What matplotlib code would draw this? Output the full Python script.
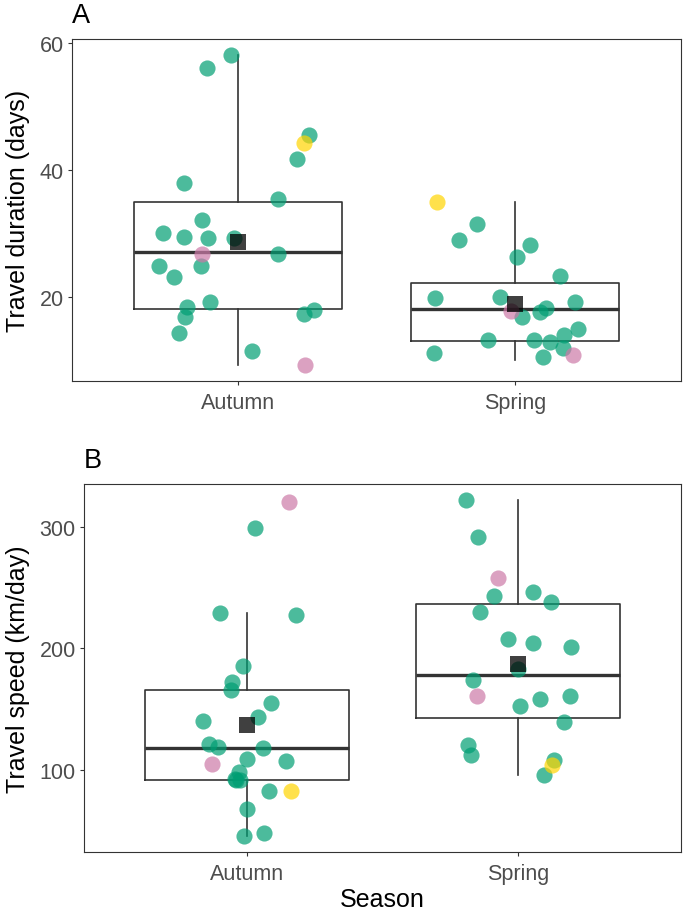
import matplotlib.pyplot as plt

plt.rcParams['font.family'] = ['Liberation Sans', 'DejaVu Sans']

seasons = ['Autumn', 'Spring']

# panel A - travel duration (days)
dur_aut = [58.2, 56.1, 45.5, 44.3, 41.7, 38.0, 35.4, 32.1, 30.1, 29.4, 29.3, 29.2, 26.7,
           26.7, 24.9, 24.9, 23.1, 19.2, 18.4, 16.8, 17.9, 17.3, 14.2, 11.4, 9.2]
dur_aut_jit = [-0.024, -0.114, 0.256, 0.238, 0.212, -0.196, 0.144, -0.130, -0.272, -0.197,
               -0.107, -0.014, -0.130, 0.144, -0.284, -0.134, -0.231, -0.100, -0.186, -0.191,
               0.273, 0.237, -0.214, 0.049, 0.241]
dur_aut_grp = ['g', 'g', 'g', 'y', 'g', 'g', 'g', 'g', 'g', 'g', 'g', 'g', 'p',
               'g', 'g', 'g', 'g', 'g', 'g', 'g', 'g', 'g', 'g', 'g', 'p']
dur_spr = [35.0, 31.4, 29.0, 28.1, 26.3, 23.2, 19.7, 20.0, 19.1, 17.7, 18.2, 17.6, 16.7,
           14.8, 14.0, 13.2, 13.1, 12.9, 11.8, 10.8, 11.1, 10.4]
dur_spr_jit = [-0.282, -0.136, -0.201, 0.054, 0.009, 0.162, -0.289, -0.055, 0.216, -0.014,
               0.111, 0.092, 0.025, 0.227, 0.176, -0.096, 0.068, 0.125, 0.173, 0.211,
               -0.291, 0.103]
dur_spr_grp = ['y', 'g', 'g', 'g', 'g', 'g', 'g', 'g', 'g', 'p', 'g', 'g', 'g',
               'g', 'g', 'g', 'g', 'g', 'g', 'p', 'g', 'g']
# box stats: q1, median, q3, whisker low, whisker high, mean
dur_q1 = [18.1, 13.0]
dur_med = [27.0, 18.1]
dur_q3 = [35.0, 22.2]
dur_lo = [9.2, 10.0]
dur_hi = [58.2, 35.0]
dur_mean = [28.7, 18.8]

# panel B - travel speed (km/day)
spd_aut = [320.1, 298.7, 228.6, 227.2, 185.4, 172.0, 165.6, 155.2, 140.4, 143.7, 121.4, 118.6,
           117.6, 109.1, 107.1, 104.6, 97.8, 92.3, 91.4, 82.4, 82.4, 67.3, 45.6, 47.7, 91.2]
spd_aut_jit = [0.156, 0.031, -0.099, 0.181, -0.015, -0.056, -0.059, 0.089, -0.161, 0.043,
               -0.140, -0.107, 0.059, 0.0, 0.146, -0.129, -0.028, -0.045, -0.026, 0.080,
               0.162, -0.001, -0.012, 0.063, -0.040]
spd_aut_grp = ['p', 'g', 'g', 'g', 'g', 'g', 'g', 'g', 'g', 'g', 'g', 'g',
               'g', 'g', 'g', 'p', 'g', 'g', 'g', 'g', 'y', 'g', 'g', 'g', 'g']
spd_spr = [321.7, 291.2, 257.4, 242.6, 245.9, 238.2, 229.4, 207.4, 203.9, 200.8, 182.7,
           173.4, 160.2, 158.0, 160.7, 152.2, 139.2, 120.0, 112.4, 107.7, 103.8, 95.6]
spd_spr_jit = [-0.192, -0.148, -0.075, -0.089, 0.055, 0.122, -0.141, -0.038, 0.055, 0.194,
               0.001, -0.167, -0.152, 0.080, 0.192, 0.005, 0.170, -0.184, -0.174, 0.133,
               0.124, 0.094]
spd_spr_grp = ['g', 'g', 'p', 'g', 'g', 'g', 'g', 'g', 'g', 'g', 'g',
               'g', 'p', 'g', 'g', 'g', 'g', 'g', 'g', 'g', 'y', 'g']
spd_q1 = [91.7, 142.3]
spd_med = [117.8, 178.0]
spd_q3 = [165.4, 236.0]
spd_lo = [45.6, 95.6]
spd_hi = [228.6, 321.7]
spd_mean = [136.5, 186.6]

cols = {'g': '#009E73', 'p': '#CC79A7', 'y': '#FFD500'}

W, H = 685, 912
fig = plt.figure(figsize=(W / 100, H / 100), dpi=100)


def panel(rect, vals, jits, grps, q1, med, q3, lo, hi, mean, ylim, yticks, ylabel, tag, xlabel=None):
    l, t, r, b = rect
    ax = fig.add_axes([l / W, 1 - b / H, (r - l) / W, (b - t) / H])
    stats = []
    for i in range(2):
        stats.append(dict(q1=q1[i], med=med[i], q3=q3[i], whislo=lo[i], whishi=hi[i], fliers=[]))
    ax.bxp(stats, positions=[1, 2], widths=0.75, showcaps=False, showfliers=False,
           boxprops=dict(color='#333333', lw=1.2),
           whiskerprops=dict(color='#333333', lw=1.2),
           medianprops=dict(color='#333333', lw=2.4, solid_capstyle='butt'))
    # jittered points, group by group so the rare colours sit on top
    for g in ['g', 'p', 'y']:
        xs, ys = [], []
        for i in range(2):
            for v, j, k in zip(vals[i], jits[i], grps[i]):
                if k == g:
                    xs.append(i + 1 + j)
                    ys.append(v)
        ax.scatter(xs, ys, s=135, color=cols[g], alpha=0.7, lw=0, zorder=3)
    ax.scatter([1, 2], mean, marker='s', s=140, color='black', alpha=0.75, lw=0, zorder=4)
    ax.set_xlim(0.4, 2.6)
    ax.set_ylim(*ylim)
    ax.set_xticks([1, 2])
    ax.set_xticklabels(seasons)
    ax.set_yticks(yticks)
    ax.tick_params(colors='#333333', labelcolor='#4D4D4D', labelsize=15.5, length=3, width=0.8, pad=3)
    ax.tick_params(axis='x', pad=5)
    for s in ax.spines.values():
        s.set_color('#333333')
        s.set_linewidth(0.8)
    ax.set_ylabel(ylabel, fontsize=18, labelpad=7)
    if xlabel:
        ax.set_xlabel(xlabel, fontsize=18, labelpad=2)
    fig.text(l / W, 1 - (t - 17) / H, tag, fontsize=19.5, ha='left', va='baseline')
    return ax


panel((72, 40, 681, 382), [dur_aut, dur_spr], [dur_aut_jit, dur_spr_jit], [dur_aut_grp, dur_spr_grp],
      dur_q1, dur_med, dur_q3, dur_lo, dur_hi, dur_mean, (6.66, 60.7), [20, 40, 60],
      'Travel duration (days)', 'A')
panel((84, 485, 681, 853), [spd_aut, spd_spr], [spd_aut_jit, spd_spr_jit], [spd_aut_grp, spd_spr_grp],
      spd_q1, spd_med, spd_q3, spd_lo, spd_hi, spd_mean, (32.1, 335.2), [100, 200, 300],
      'Travel speed (km/day)', 'B', xlabel='Season')

fig.savefig('out.png', dpi=100)
